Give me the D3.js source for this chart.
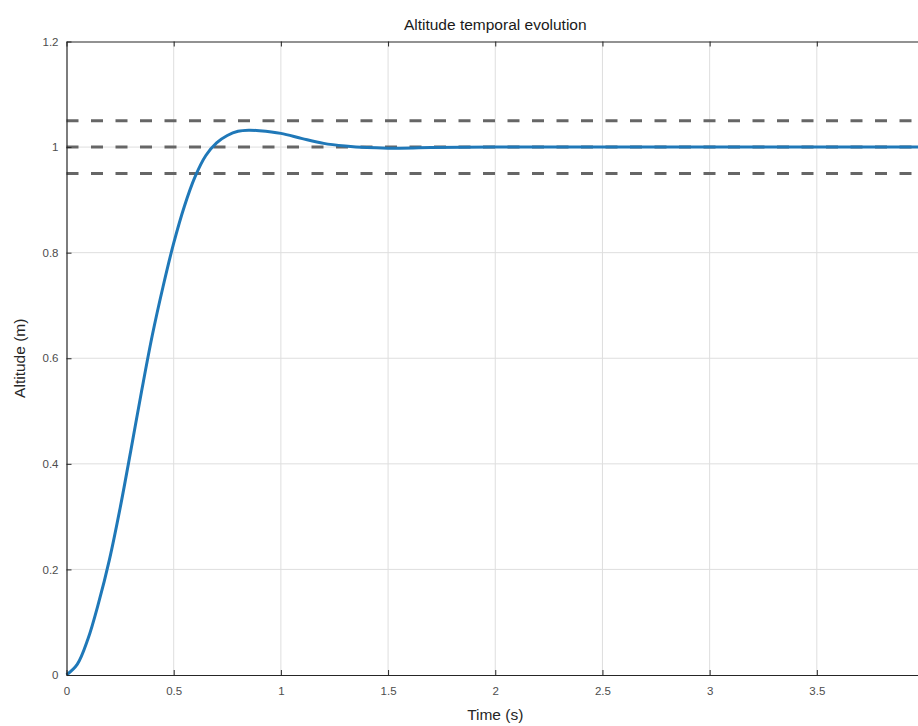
<!DOCTYPE html>
<html>
<head>
<meta charset="utf-8">
<script src="https://cdn.jsdelivr.net/npm/d3@7"></script>
<style>
  body { margin: 0; background: #fff; }
  svg { font-family: "Liberation Sans", Arial, sans-serif; }
</style>
</head>
<body>
<div id="chart"></div>
<script>
// data
const time = [0, 0.05, 0.1, 0.15, 0.2, 0.25, 0.3, 0.35, 0.4, 0.45, 0.5, 0.55, 0.6, 0.65, 0.7, 0.75,
  0.8, 0.85, 0.9, 1.0, 1.1, 1.2, 1.3, 1.4, 1.5, 1.7, 2.0, 2.5, 3, 3.5, 4];
const altitude = [0, 0.02, 0.068, 0.137, 0.218, 0.316, 0.425, 0.537, 0.643, 0.735, 0.818, 0.888, 0.944,
  0.984, 1.008, 1.022, 1.030, 1.032, 1.031, 1.026, 1.016, 1.007, 1.002, 0.999, 0.998, 0.999, 1.0, 1.0, 1.0, 1.0, 1.0];
const bandLevels = [1.05, 1.0, 0.95];
const xTicks = [0, 0.5, 1, 1.5, 2, 2.5, 3, 3.5];
const yTicks = [0, 0.2, 0.4, 0.6, 0.8, 1, 1.2];

const width = 918, height = 726;
let margin = { left: 66.5, top: 41.5, right: 924, bottom: 675 };

let x = d3.scaleLinear().domain([0, 4]).range([margin.left, margin.right]);
let y = d3.scaleLinear().domain([0, 1.2]).range([margin.bottom, margin.top]);

let svg = d3.select('#chart').append('svg')
  .attr('width', width)
  .attr('height', height);

// grid
let grid = svg.append('g').attr('stroke', '#dedede').attr('stroke-width', 1);
grid.selectAll('.gx').data(xTicks.filter(d => d > 0)).enter().append('line')
  .attr('x1', d => x(d)).attr('x2', d => x(d))
  .attr('y1', margin.top).attr('y2', margin.bottom);
grid.selectAll('.gy').data(yTicks.filter(d => d > 0 && d < 1.2)).enter().append('line')
  .attr('y1', d => y(d)).attr('y2', d => y(d))
  .attr('x1', margin.left).attr('x2', margin.right);

// tolerance band lines
svg.append('g').selectAll('line').data(bandLevels).enter().append('line')
  .attr('x1', margin.left).attr('x2', margin.right)
  .attr('y1', d => y(d)).attr('y2', d => y(d))
  .attr('stroke', '#666')
  .attr('stroke-width', 3)
  .attr('stroke-dasharray', '12,12.5');

// response curve
let line = d3.line()
  .x((d, i) => x(time[i]))
  .y(d => y(d))
  .curve(d3.curveCatmullRom.alpha(0.5));

svg.append('path')
  .datum(altitude)
  .attr('d', line)
  .attr('fill', 'none')
  .attr('stroke', '#1f78b8')
  .attr('stroke-width', 3);

// axes (inner ticks, box on top)
let xAxis = svg.append('g').attr('transform', `translate(0,${margin.bottom})`)
  .call(d3.axisBottom(x).tickValues(xTicks).tickSizeInner(-5).tickSizeOuter(0).tickPadding(12)
    .tickFormat(d3.format('')));
let xTop = svg.append('g').attr('transform', `translate(0,${margin.top})`)
  .call(d3.axisTop(x).tickValues(xTicks).tickSizeInner(-5).tickSizeOuter(0).tickFormat(''));
let yAxis = svg.append('g').attr('transform', `translate(${margin.left},0)`)
  .call(d3.axisLeft(y).tickValues(yTicks).tickSizeInner(-5).tickSizeOuter(0).tickPadding(8)
    .tickFormat(d3.format('')));

[xAxis, xTop, yAxis].forEach(g => {
  g.select('.domain').attr('stroke', '#262626').attr('stroke-width', 1.2);
  g.selectAll('.tick line').attr('stroke', '#262626');
  g.selectAll('.tick text').attr('fill', '#4d4d4d').style('font-size', '11.5px')
    .style('font-family', '"Liberation Sans", Arial, sans-serif');
});

// titles
svg.append('text')
  .attr('x', (margin.left + margin.right) / 2)
  .attr('y', 30)
  .attr('text-anchor', 'middle')
  .style('font-size', '15.5px')
  .style('fill', '#1a1a1a')
  .text('Altitude temporal evolution');

svg.append('text')
  .attr('x', (margin.left + margin.right) / 2)
  .attr('y', 720)
  .attr('text-anchor', 'middle')
  .style('font-size', '15.5px')
  .style('fill', '#262626')
  .text('Time (s)');

svg.append('text')
  .attr('transform', `translate(25,${(margin.top + margin.bottom) / 2}) rotate(-90)`)
  .attr('text-anchor', 'middle')
  .style('font-size', '15.5px')
  .style('fill', '#262626')
  .text('Altitude (m)');
</script>
</body>
</html>
